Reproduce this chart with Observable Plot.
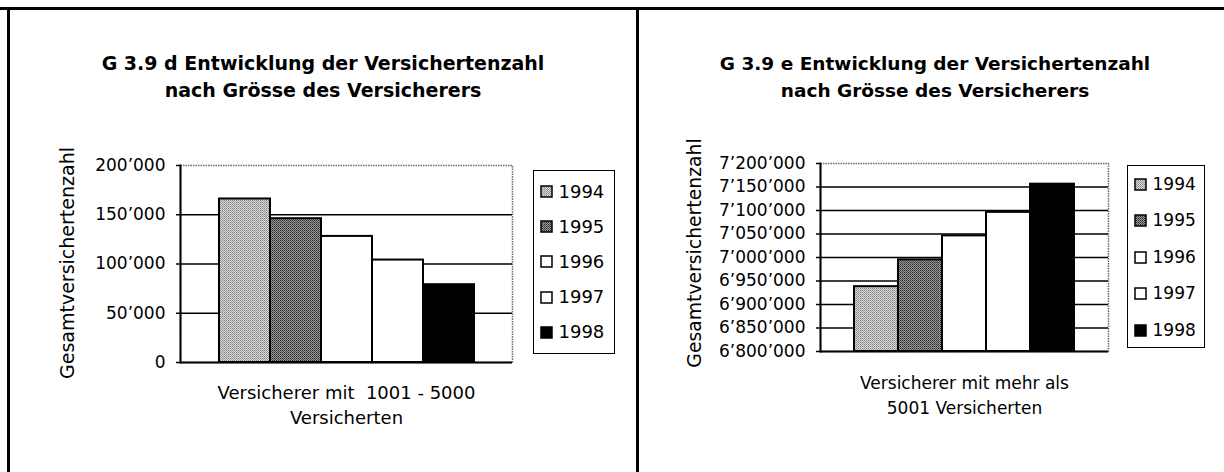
<!DOCTYPE html>
<html>
<head>
<meta charset="utf-8">
<script src="https://cdn.jsdelivr.net/npm/d3@7"></script>
<script src="https://cdn.jsdelivr.net/npm/@observablehq/plot@0.6"></script>
<style>
  body { margin: 0; background: #fff; }
  #page { position: relative; width: 1224px; height: 472px; overflow: hidden; font-family: "DejaVu Sans", sans-serif; color: #000; background: #fff; }
  .line { position: absolute; background: #000; }
  .title { position: absolute; width: 600px; text-align: center; font-weight: bold; line-height: 27px; white-space: nowrap; }
  .ylab { position: absolute; white-space: nowrap; line-height: 1; transform: translate(-50%, -50%) rotate(-90deg); }
  .legend { position: absolute; border: 1.5px solid #000; box-sizing: border-box; background: #fff; }
  .legend .row { display: flex; align-items: center; }
  .legend svg { display: block; }
  .chart { position: absolute; top: 0; }
</style>
</head>
<body>
<svg width="0" height="0" style="position:absolute">
  <defs>
    <pattern id="pat1994" width="2" height="2" patternUnits="userSpaceOnUse">
      <rect width="2" height="2" fill="#d8d8d8"/>
      <rect x="0" y="0" width="1" height="1" fill="#858585"/>
      <rect x="1" y="1" width="1" height="1" fill="#a0a0a0"/>
    </pattern>
    <pattern id="pat1995" width="2" height="2" patternUnits="userSpaceOnUse">
      <rect width="2" height="2" fill="#979797"/>
      <rect x="0" y="0" width="1" height="1" fill="#2a2a2a"/>
      <rect x="1" y="1" width="1" height="1" fill="#555555"/>
    </pattern>
  </defs>
</svg>
<div id="page"></div>
<script>
// ---------- data ----------
const years = ["1994", "1995", "1996", "1997", "1998"];
const leftValues = [166000, 146000, 128000, 104000, 79000];
const rightValues = [6938000, 6995000, 7046000, 7096000, 7156000];
const leftTicks = [0, 50000, 100000, 150000, 200000];
const rightTicks = [6800000, 6850000, 6900000, 6950000, 7000000, 7050000, 7100000, 7150000, 7200000];
const leftCategory = "Versicherer mit  1001 - 5000\nVersicherten";
const rightCategory = "Versicherer mit mehr als\n5001 Versicherten";
const leftTitle = ["G 3.9 d Entwicklung der Versichertenzahl", "nach Grösse des Versicherers"];
const rightTitle = ["G 3.9 e Entwicklung der Versichertenzahl", "nach Grösse des Versicherers"];
const yLabel = "Gesamtversichertenzahl";
const yearFills = ["url(#pat1994)", "url(#pat1995)", "#ffffff", "#ffffff", "#000000"];

const fmt = v => d3.format(",")(v).replace(/,/g, "\u2019");
const page = document.getElementById("page");

function makeChart(cfg) {
  const rows = years.map((year, i) => ({category: cfg.category, year, value: cfg.values[i]}));
  const base = cfg.ticks[0];
  return Plot.plot({
    width: cfg.width,
    height: 472,
    marginLeft: cfg.margin[0],
    marginRight: cfg.margin[1],
    marginTop: cfg.margin[2],
    marginBottom: cfg.margin[3],
    style: {fontFamily: "DejaVu Sans, sans-serif", background: "transparent", overflow: "visible", color: "#000"},
    fx: {padding: 0},
    x: {domain: years, paddingInner: 0, paddingOuter: cfg.outer, axis: null},
    y: {domain: [cfg.ticks[0], cfg.ticks[cfg.ticks.length - 1]]},
    color: {type: "ordinal", domain: years, range: yearFills},
    marks: [
      Plot.frame({stroke: "#6a6a6a", strokeWidth: 1.5, strokeDasharray: "1.5 1"}),
      Plot.gridY(cfg.ticks.slice(1, -1), {stroke: "#000", strokeOpacity: 1, strokeWidth: 1.5}),
      Plot.barY(rows, {fx: "category", x: "year", y1: base, y2: "value", fill: "year", stroke: "#000", strokeWidth: 2}),
      Plot.ruleY([base], {stroke: "#000", strokeWidth: 2}),
      Plot.frame({anchor: "left", stroke: "#000", strokeWidth: 2}),
      Plot.axisY(cfg.ticks, {tickSize: 4, tickPadding: 11, tickFormat: fmt, fontSize: cfg.tickFont, stroke: "#000", strokeWidth: 1.5, label: null}),
      Plot.axisFx({anchor: "bottom", tickSize: 0, tickPadding: cfg.catPad, fontSize: cfg.catFont, lineHeight: cfg.catLH, label: null})
    ]
  });
}

function addChart(cfg) {
  const chart = makeChart(cfg);
  chart.classList.add("chart");
  chart.style.left = cfg.left + "px";
  page.appendChild(chart);

  // title
  const t = document.createElement("div");
  t.className = "title";
  t.style.left = (cfg.titleCenter - 300) + "px";
  t.style.top = cfg.titleTop + "px";
  t.style.fontSize = cfg.titleFont + "px";
  t.innerHTML = cfg.title.map(s => `<div>${s}</div>`).join("");
  page.appendChild(t);

  // y label
  const yl = document.createElement("div");
  yl.className = "ylab";
  yl.style.left = cfg.ylab[0] + "px";
  yl.style.top = cfg.ylab[1] + "px";
  yl.style.fontSize = cfg.ylabFont + "px";
  yl.textContent = yLabel;
  page.appendChild(yl);

  // legend from the chart's color scale
  const color = chart.scale("color");
  const lg = document.createElement("div");
  lg.className = "legend";
  const b = cfg.legendBox;
  lg.style.left = b[0] + "px"; lg.style.top = b[1] + "px";
  lg.style.width = b[2] + "px"; lg.style.height = b[3] + "px";
  lg.style.paddingTop = cfg.legendPadTop + "px";
  lg.style.paddingLeft = "5.5px";
  color.domain.forEach((yr, i) => {
    const row = document.createElement("div");
    row.className = "row";
    row.style.height = cfg.legendRow + "px";
    row.innerHTML = `<svg width="13" height="13"><rect x="1" y="1" width="11" height="11" fill="${color.range[i]}" stroke="#000" stroke-width="1.5"/></svg>` +
      `<span style="font-size:${cfg.legendFont}px;margin-left:${cfg.legendGap}px;line-height:1">${yr}</span>`;
    lg.appendChild(row);
  });
  page.appendChild(lg);
}

// frame lines of the page
[[0, 7, 1224, 2.5], [7, 7, 2.5, 465], [636, 7, 2.5, 465]].forEach(([l, t, w, h]) => {
  const d = document.createElement("div");
  d.className = "line";
  Object.assign(d.style, {left: l + "px", top: t + "px", width: w + "px", height: h + "px"});
  page.appendChild(d);
});

addChart({
  category: leftCategory, values: leftValues, ticks: leftTicks,
  left: 0, width: 620, margin: [180, 108, 165, 110], outer: 0.75,
  tickFont: 17, catFont: 18, catPad: 19, catLH: 1.39,
  title: leftTitle, titleCenter: 323, titleTop: 50, titleFont: 19,
  ylab: [67, 263], ylabFont: 19,
  legendBox: [533, 170, 82, 184], legendPadTop: 3, legendRow: 35.2, legendFont: 18, legendGap: 6
});

addChart({
  category: rightCategory, values: rightValues, ticks: rightTicks,
  left: 620, width: 604, margin: [200, 116, 163, 121], outer: 0.73,
  tickFont: 17, catFont: 17, catPad: 19, catLH: 1.5,
  title: rightTitle, titleCenter: 935, titleTop: 50, titleFont: 18.5,
  ylab: [695, 253], ylabFont: 18.8,
  legendBox: [1127, 165, 78, 183], legendPadTop: 0, legendRow: 36.5, legendFont: 17, legendGap: 6
});
</script>
</body>
</html>
